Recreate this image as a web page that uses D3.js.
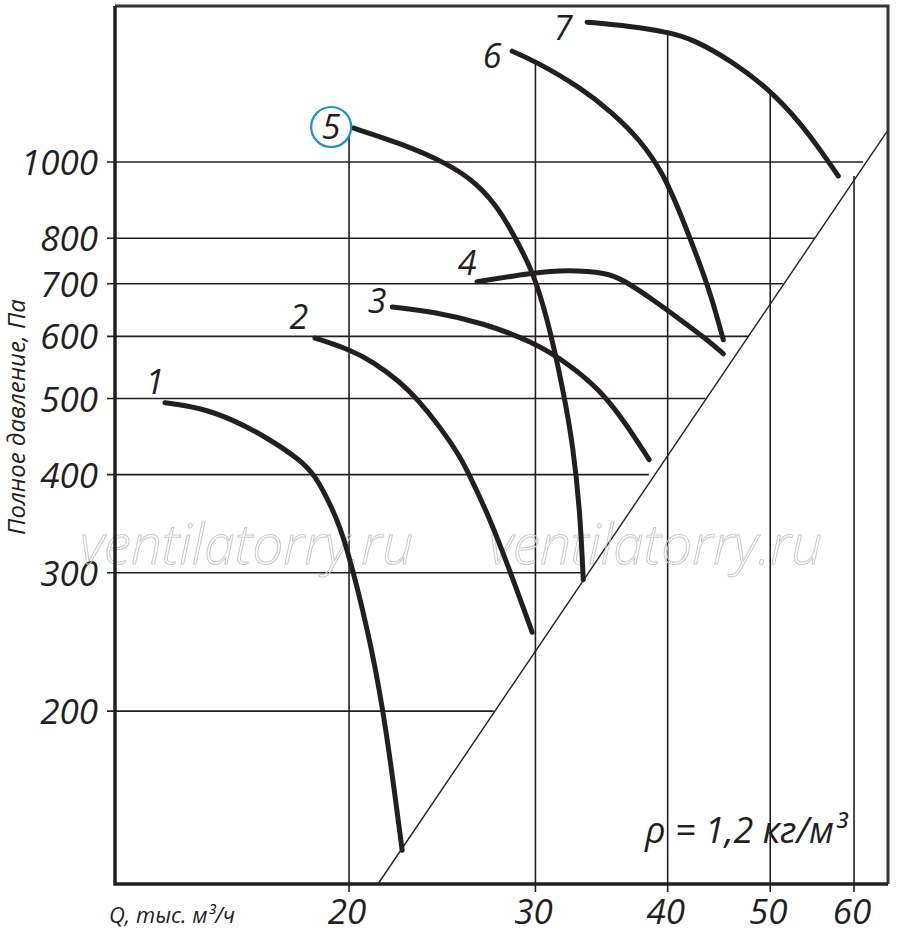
<!DOCTYPE html>
<html>
<head>
<meta charset="utf-8">
<script src="https://cdnjs.cloudflare.com/ajax/libs/d3/7.8.5/d3.min.js"></script>
<style>
  html, body { margin: 0; padding: 0; background: #fff; }
  svg text { font-family: "Open Sans", "Noto Sans", sans-serif; font-style: italic; fill: #231f20; }
</style>
</head>
<body>
<div id="chart"></div>
<script>
// fan curves, Q in thousand m3/h, P in Pa
var q1 = [13.4, 14.46, 15.54, 16.73, 17.97, 18.57, 19.31, 19.83, 20.94, 21.54, 21.96, 22.45];
var p1 = [494, 487, 470, 446, 418, 400, 361, 331, 247, 200, 167, 133];
var q2 = [18.57, 20.04, 21.07, 22.35, 23.24, 24.38, 25.46, 26.02, 27.01, 28.2, 29.79];
var p2 = [597, 577, 557, 525, 498, 460, 422, 398, 358, 309, 252];
var q3 = [21.97, 24.01, 26.78, 29.85, 32.15, 34.53, 36.47, 38.42];
var p3 = [654, 645, 624, 590, 555, 513, 466, 418];
var q4 = [26.42, 29.85, 32.15, 35.07, 36.31, 38.76, 41.11, 43.6, 45.15];
var p4 = [704, 723, 729, 723, 708, 668, 630, 594, 570];
var q5 = [20.18, 22.35, 24.75, 26.42, 27.78, 29.01, 29.85, 30.77, 31.87, 32.57, 33.06, 33.29];
var p5 = [1105, 1057, 997, 940, 869, 780, 723, 635, 513, 434, 358, 294];
var q6 = [28.52, 29.85, 33.06, 35.52, 37.67, 39.61, 41.11, 42.66, 43.88, 45.15];
var p6 = [1384, 1348, 1246, 1154, 1067, 968, 861, 757, 682, 594];
var q7 = [33.57, 36.87, 40.04, 42.28, 45.84, 50.01, 53.39, 55.76, 57.98];
var p7 = [1507, 1489, 1463, 1433, 1348, 1235, 1121, 1036, 960];
var curveNames = ["1", "2", "3", "4", "5", "6", "7"];

var xTicks = [20, 30, 40, 50, 60];
var yTicks = [200, 300, 400, 500, 600, 700, 800, 1000];
// where each grid line stops (vertical: top pressure, horizontal: right flow)
var vGridTop = [1108, 1348, 1470, 1230, 960];
var hGridEnd = [27.4, 33.3, 38.4, 43.4, 47.7, 51.4, 55.1, 61.2];
// network line endpoints
var netQ = [21.3, 64.5];
var netP = [120.5, 1095];

var W = 900, H = 933;
var mLeft = 115, mRight = 888, mTop = 6, mBottom = 884;
var ink = "#231f20";

var svg = d3.select("#chart").append("svg")
    .attr("width", W)
    .attr("height", H);

var x = d3.scaleLog().domain([12.02, 64.6]).range([mLeft, mRight]);
var y = d3.scaleLog().domain([120.5, 1580]).range([mBottom, mTop]);

// horizontal grid lines
yTicks.forEach(function (t, i) {
  svg.append("line")
    .attr("x1", mLeft - 8)
    .attr("x2", x(hGridEnd[i]))
    .attr("y1", y(t))
    .attr("y2", y(t))
    .attr("stroke", ink)
    .attr("stroke-width", 1.6);
  svg.append("text")
    .attr("x", 98)
    .attr("y", y(t) + 13)
    .attr("text-anchor", "end")
    .style("font-size", "35px")
    .text(t);
});

// vertical grid lines
xTicks.forEach(function (t, i) {
  svg.append("line")
    .attr("x1", x(t))
    .attr("x2", x(t))
    .attr("y1", y(vGridTop[i]))
    .attr("y2", mBottom + 8)
    .attr("stroke", ink)
    .attr("stroke-width", 1.6);
  svg.append("text")
    .attr("x", x(t) - 2)
    .attr("y", 924)
    .attr("text-anchor", "middle")
    .style("font-size", "35px")
    .text(t);
});

// network characteristic
svg.append("line")
  .attr("x1", x(netQ[0]))
  .attr("y1", y(netP[0]))
  .attr("x2", x(netQ[1]))
  .attr("y2", y(netP[1]))
  .attr("stroke", ink)
  .attr("stroke-width", 1.4);

// watermarks
[[80, 564], [489, 564]].forEach(function (p) {
  svg.append("text")
    .attr("x", p[0])
    .attr("y", p[1])
    .style("font-size", "55px")
    .style("font-weight", 300)
    .style("fill", "none")
    .style("stroke", "#c9c9c9")
    .style("stroke-width", 1)
    .text("ventilatorry.ru");
});

// frame
svg.append("path")
  .attr("d", "M" + mLeft + "," + mTop + "H" + mRight + "V" + mBottom)
  .attr("fill", "none")
  .attr("stroke", "#333")
  .attr("stroke-width", 3);
svg.append("path")
  .attr("d", "M" + mLeft + "," + mTop + "V" + mBottom + "H" + mRight)
  .attr("fill", "none")
  .attr("stroke", ink)
  .attr("stroke-width", 3.5);

// curves
var line = d3.line()
    .x(function (d) { return x(d[0]); })
    .y(function (d) { return y(d[1]); })
    .curve(d3.curveBasis);

var allQ = [q1, q2, q3, q4, q5, q6, q7];
var allP = [p1, p2, p3, p4, p5, p6, p7];
var labelOff = [[-10, -21], [-16, -21], [-15, -6], [-10, -19], [-22, -1], [-20, 5], [-24, 6]];

for (var i = 0; i < allQ.length; i++) {
  var pts = allQ[i].map(function (q, j) { return [q, allP[i][j]]; });
  svg.append("path")
    .datum(pts)
    .attr("d", line)
    .attr("fill", "none")
    .attr("stroke", ink)
    .attr("stroke-width", 5)
    .attr("stroke-linecap", "round");

  var lx = x(pts[0][0]) + labelOff[i][0];
  var ly = y(pts[0][1]) + labelOff[i][1];
  if (curveNames[i] == "5") {
    svg.append("circle")
      .attr("cx", lx)
      .attr("cy", ly)
      .attr("r", 20)
      .attr("fill", "#fff")
      .attr("stroke", "#1b8fd6")
      .attr("stroke-width", 2.2);
  }
  svg.append("text")
    .attr("x", lx)
    .attr("y", ly + 12)
    .attr("text-anchor", "middle")
    .style("font-size", "34px")
    .text(curveNames[i]);
}

// axis titles
svg.append("text")
  .attr("x", 109)
  .attr("y", 923)
  .style("font-size", "22px")
  .text("Q, тыс. м³/ч");

svg.append("text")
  .attr("transform", "translate(25,417) rotate(-90)")
  .attr("text-anchor", "middle")
  .style("font-size", "24px")
  .text("Полное давление, Па");

svg.append("text")
  .attr("x", 645)
  .attr("y", 843)
  .style("font-size", "36px")
  .text("ρ = 1,2 кг/м³");
</script>
</body>
</html>
